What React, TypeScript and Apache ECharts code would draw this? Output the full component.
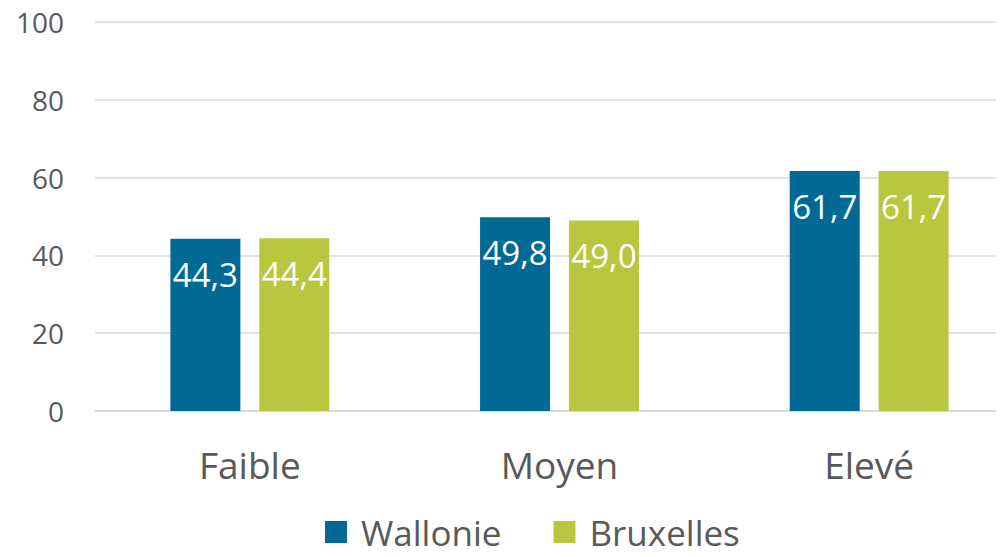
import React, { useEffect, useRef } from "react";
import * as echarts from "echarts";

const categories = ["Faible", "Moyen", "Elevé"];
const wallonie = [44.3, 49.8, 61.7];
const bruxelles = [44.4, 49.0, 61.7];
const seriesNames = ["Wallonie", "Bruxelles"];

const FONT = "'Open Sans', sans-serif";
const fmt = (v: number) => v.toFixed(1).replace(".", ",");

export default function App() {
  const ref = useRef<HTMLDivElement>(null);
  useEffect(() => {
    if (!ref.current) return;
    const chart = echarts.init(ref.current, null, { renderer: "svg" });
    const label = {
      show: true,
      position: "insideTop",
      distance: 19,
      color: "#ffffff",
      fontFamily: FONT,
      fontSize: 33,
      lineHeight: 33,
      formatter: (p: any) => fmt(p.value),
    };
    chart.setOption({
      animation: false,
      textStyle: { fontFamily: FONT },
      grid: {
        left: 95,
        width: 929,
        top: 22,
        height: 389,
        containLabel: false,
        outerBoundsMode: "none",
      },
      legend: {
        top: 514,
        left: 325,
        itemWidth: 22,
        itemHeight: 22,
        itemGap: 52,
        icon: "rect",
        padding: 0,
        textStyle: { fontFamily: FONT, fontSize: 35, lineHeight: 36, color: "#595959", padding: [0, 0, 0, 9] },
        data: seriesNames,
      },
      xAxis: {
        type: "category",
        data: categories,
        axisLine: { lineStyle: { color: "#d9d9d9", width: 1.5 } },
        axisTick: { show: false },
        axisLabel: { fontFamily: FONT, fontSize: 37, color: "#595959", margin: 35 },
      },
      yAxis: {
        type: "value",
        min: 0,
        max: 100,
        interval: 20,
        splitLine: { lineStyle: { color: "#d9d9d9", width: 1.5 } },
        axisLabel: { fontFamily: FONT, fontSize: 28, color: "#595959", margin: 31 },
      },
      series: [
        {
          name: seriesNames[0],
          type: "bar",
          data: wallonie,
          barWidth: 70,
          barGap: "27%",
          itemStyle: { color: "#006996" },
          label,
        },
        {
          name: seriesNames[1],
          type: "bar",
          data: bruxelles,
          barWidth: 70,
          itemStyle: { color: "#B8C73D" },
          label,
        },
      ],
    });
    return () => chart.dispose();
  }, []);
  return <div ref={ref} style={{ width: 1004, height: 557, margin: -8 }} />;
}
